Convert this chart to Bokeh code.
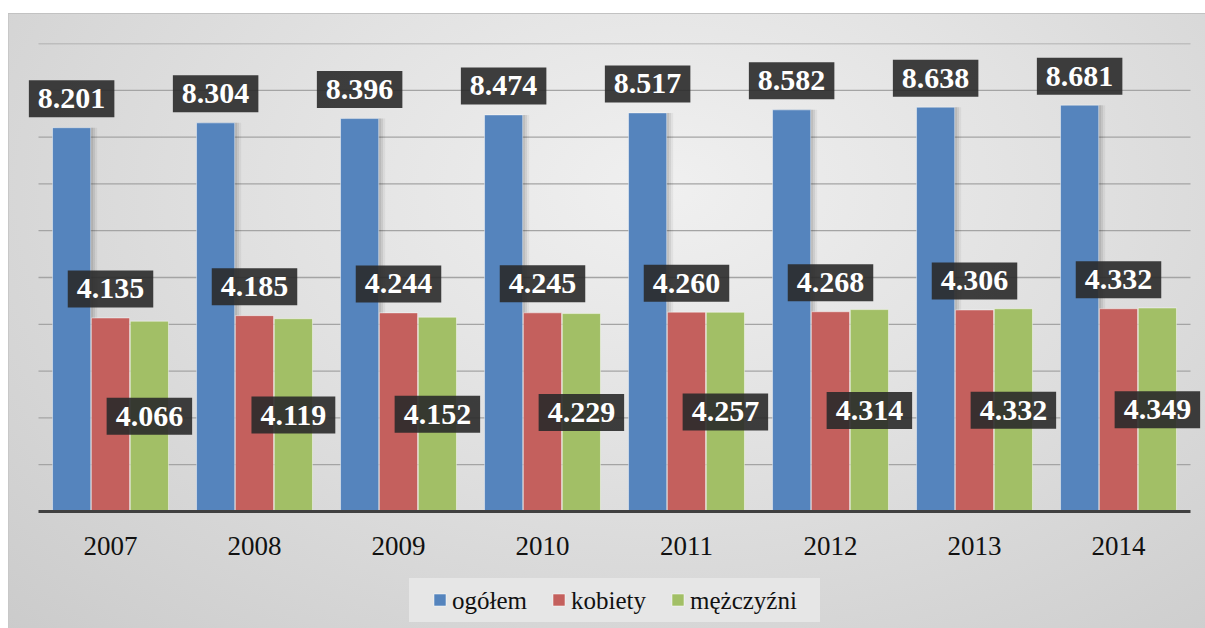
from bokeh.plotting import figure
from bokeh.models import (ColumnDataSource, FactorRange, Range1d, InlineStyleSheet)
from bokeh.transform import dodge
from bokeh.core.properties import value
from bokeh.embed import file_html
from bokeh.resources import INLINE

years = ["2007", "2008", "2009", "2010", "2011", "2012", "2013", "2014"]
ogolem = [8.201, 8.304, 8.396, 8.474, 8.517, 8.582, 8.638, 8.681]
kobiety = [4.135, 4.185, 4.244, 4.245, 4.260, 4.268, 4.306, 4.332]
mezczyzni = [4.066, 4.119, 4.152, 4.229, 4.257, 4.314, 4.332, 4.349]
series_names = ["ogółem", "kobiety", "mężczyźni"]
colors = ["#5584bd", "#c4605d", "#a2bf66"]
grid_ticks = [1, 2, 3, 4, 5, 6, 7, 8, 9, 10]

def fmt(v):
    return f"{v:.3f}"

src = ColumnDataSource(data=dict(
    years=years, ogolem=ogolem, kobiety=kobiety, mezczyzni=mezczyzni,
    ogolem_t=[fmt(v) for v in ogolem], kobiety_t=[fmt(v) for v in kobiety],
    mezczyzni_t=[fmt(v) for v in mezczyzni],
    mezczyzni_half=[v / 2 for v in mezczyzni],
    base=[0] * len(years),
))

css = InlineStyleSheet(css="""
:host {
  background:
    linear-gradient(#ffffff, #ffffff) top left / 100% 13px no-repeat,
    linear-gradient(#ffffff, #ffffff) top left / 8px 100% no-repeat,
    linear-gradient(#c2c2c2, #c2c2c2) 8px 13px / 100% 1px no-repeat,
    linear-gradient(#c8c8c8, #c8c8c8) 8px 13px / 1px 100% no-repeat,
    radial-gradient(ellipse farthest-corner at 55% 30%, #f0f0f0 0%, #e2e2e2 40%, #cbcbcb 100%);
}
""")

FW, FH = 1182, 585
pad = 15 / 144
y0, y1 = -2.5, 10
p = figure(x_range=FactorRange(*years, range_padding=pad, range_padding_units="absolute"),
           y_range=Range1d(y0, y1),
           frame_width=FW, frame_height=FH,
           min_border_left=23, min_border_right=0, min_border_top=43, min_border_bottom=0,
           output_backend="svg", toolbar_location=None)
p.stylesheets = [css]
p.background_fill_alpha = 0
p.border_fill_alpha = 0
p.outline_line_color = None
p.xaxis.visible = False
p.yaxis.visible = False
p.xgrid.grid_line_color = None
p.ygrid.grid_line_color = None

px_x = FW / (len(years) + 2 * pad)   # screen px per category unit
px_y = FH / (y1 - y0)                # screen px per value unit

# horizontal gridlines over the plot area (categories span 0..n)
p.segment(x0=[0] * len(grid_ticks), x1=[len(years)] * len(grid_ticks),
          y0=grid_ticks, y1=grid_ticks, line_color="#a4a4a4", line_width=1.3)

bw = 0.27
offs = [-bw, 0.0, bw]
cols = ["ogolem", "kobiety", "mezczyzni"]

# soft shadow to the right of the blue bars
for sh, a in [(0.045, 0.05), (0.03, 0.07), (0.015, 0.09)]:
    p.vbar(x=dodge("years", offs[0] + sh, range=p.x_range), top="ogolem", width=bw - 0.005,
           source=src, fill_color="black", fill_alpha=a, line_color=None)

for c, off, color in zip(cols, offs, colors):
    p.vbar(x=dodge("years", off, range=p.x_range), top=c, width=bw - 0.005,
           source=src, fill_color=color, line_color="#ffffff", line_alpha=0.45,
           line_width=1)

# category axis baseline
p.segment(x0=[0], x1=[len(years)], y0=[0], y1=[0], line_color="#404040", line_width=3)

# category (year) labels under the baseline
p.text(x="years", y="base", text="years", source=src, y_offset=34, anchor="center",
       text_font=value("Liberation Serif"), text_font_size="27px", text_color="#111111")

label_kw = dict(source=src, text_font=value("Liberation Serif"), text_font_style="bold",
                text_font_size="30px", text_color="white", anchor="center",
                background_fill_color="#2a2a2a", background_fill_alpha=0.9,
                padding=dict(left=9, right=9, top=9, bottom=9))
p.text(x=dodge("years", offs[0], range=p.x_range), y="ogolem", text="ogolem_t",
       y_offset=-29, **label_kw)
p.text(x=dodge("years", offs[1], range=p.x_range), y="kobiety", text="kobiety_t",
       y_offset=-29, **label_kw)
p.text(x=dodge("years", offs[2], range=p.x_range), y="mezczyzni_half", text="mezczyzni_t",
       **label_kw)

# legend (bottom, centred under the categories)
lx = len(years) / 2
ly = -88.5 / px_y
p.rect(x=[lx], y=[ly], width=411, height=44, width_units="screen", height_units="screen",
       fill_color="#e6e6e6", line_color=None)
sq_dx = [-174.5, -55.5, 63.5]
leg = ColumnDataSource(data=dict(
    name=series_names, color=colors,
    sx=[lx + d / px_x for d in sq_dx], tx=[lx + (d + 12) / px_x for d in sq_dx],
    y=[ly] * len(series_names),
))
p.rect(x="sx", y="y", width=12, height=12, width_units="screen", height_units="screen",
       fill_color="color", line_color="#ffffff", line_alpha=0.5, source=leg)
p.text(x="tx", y="y", text="name", source=leg, anchor="center_left",
       text_font=value("Liberation Serif"), text_font_size="25px", text_color="#111111")

open("out.html", "w").write(file_html(p, INLINE))
